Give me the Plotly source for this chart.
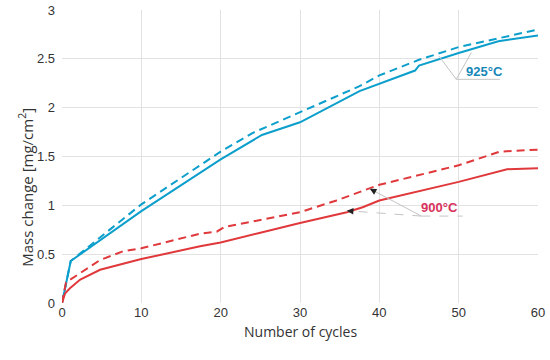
import plotly.graph_objects as go

# ---- data ----
x_925_solid = [0, 1.1, 10, 20, 25.2, 30, 37.5, 44.5, 45, 50, 55, 60]
y_925_solid = [0, 0.43, 0.94, 1.47, 1.72, 1.85, 2.17, 2.38, 2.43, 2.56, 2.68, 2.74]

x_925_dash = [0, 1.1, 10, 17.4, 20, 24, 25.4, 30, 37.5, 40, 45, 50, 55, 60]
y_925_dash = [0, 0.43, 1.01, 1.41, 1.55, 1.74, 1.79, 1.95, 2.22, 2.33, 2.49, 2.62, 2.71, 2.80]

x_900_solid = [0, 0.4, 1, 2.3, 4.8, 10, 17.4, 20, 25, 30, 35.9, 37.9, 40, 50, 56.1, 60]
y_900_solid = [0, 0.10, 0.15, 0.24, 0.34, 0.45, 0.58, 0.62, 0.72, 0.82, 0.93, 0.98, 1.05, 1.24, 1.37, 1.38]

x_900_dash = [0, 0.5, 4.8, 7.7, 10, 17.4, 19.5, 20.5, 25, 30, 34.6, 40, 50, 55.2, 60]
y_900_dash = [0, 0.21, 0.44, 0.53, 0.56, 0.71, 0.73, 0.78, 0.85, 0.93, 1.05, 1.21, 1.41, 1.55, 1.57]

x_ticks = [0, 10, 20, 30, 40, 50, 60]
y_ticks = [0, 0.5, 1, 1.5, 2, 2.5, 3]
y_tick_labels = ["0", "0.5", "1", "1.5", "2", "2.5", "3"]

x_title = "Number of cycles"
y_title = "Mass change [mg/cm<sup>2</sup>]"
label_925 = "925°C"
label_900 = "900°C"

BLUE = "#0c9fcc"
RED = "#e0393c"
BLUE_TXT = "#1787b8"
RED_TXT = "#d8325c"
GRID = "#e2e2e2"
GRAY = "#c4c4c4"

fig = go.Figure()
fig.add_trace(go.Scatter(x=x_925_dash, y=y_925_dash, mode="lines",
                         line=dict(color=BLUE, width=2, dash="8px,5px")))
fig.add_trace(go.Scatter(x=x_925_solid, y=y_925_solid, mode="lines",
                         line=dict(color=BLUE, width=2)))
fig.add_trace(go.Scatter(x=x_900_dash, y=y_900_dash, mode="lines",
                         line=dict(color=RED, width=2, dash="8px,5px")))
fig.add_trace(go.Scatter(x=x_900_solid, y=y_900_solid, mode="lines",
                         line=dict(color=RED, width=2)))

# ---- callout lines ----
def seg(x0, y0, x1, y1, dash="solid"):
    fig.add_shape(type="line", x0=x0, y0=y0, x1=x1, y1=y1, xref="x", yref="y",
                  line=dict(color=GRAY, width=1, dash=dash), layer="above")

def head(xt, yt, xv, yv):
    # tiny arrow whose head sits at the tip, direction from the vertex
    dx, dy = xt - xv, yt - yv
    fig.add_annotation(x=xt, y=yt, ax=xt - dx * 0.08, ay=yt - dy * 0.08,
                       xref="x", yref="y", axref="x", ayref="y", text="",
                       showarrow=True, arrowhead=2, arrowsize=1.1,
                       arrowwidth=1.2, arrowcolor="#222222")

# 925 callout
v925 = (49.7, 2.29)
seg(v925[0], v925[1], 47.5, 2.53)
seg(v925[0], v925[1], 51.6, 2.565)
seg(v925[0], v925[1], 55.2, v925[1])
head(47.5, 2.53, *v925)
head(51.6, 2.565, *v925)
fig.add_annotation(x=53.3, y=2.37, xref="x", yref="y", text="<b>" + label_925 + "</b>",
                   showarrow=False, font=dict(family="Liberation Sans", size=13, color=BLUE_TXT))

# 900 callout
v900 = (45.3, 0.89)
seg(v900[0], v900[1], 38.8, 1.17)
seg(v900[0], v900[1], 35.9, 0.945, dash="dash")
seg(v900[0], v900[1], 50.5, v900[1], dash="dash")
head(38.8, 1.17, *v900)
head(35.9, 0.945, *v900)
fig.add_annotation(x=47.6, y=0.98, xref="x", yref="y", text="<b>" + label_900 + "</b>",
                   showarrow=False, font=dict(family="Liberation Sans", size=13, color=RED_TXT))

# axis titles
fig.add_annotation(x=0, y=0.395, xref="paper", yref="paper", xshift=-49,
                   text=y_title, textangle=-90, showarrow=False,
                   font=dict(family="Open Sans", size=15, color="#333333"))
fig.add_annotation(x=0.5, y=0, xref="paper", yref="paper", yshift=-40,
                   text=x_title, showarrow=False,
                   font=dict(family="Open Sans", size=14, color="#333333"))

fig.update_layout(
    width=550, height=360, autosize=False,
    margin=dict(l=62, r=12, t=10, b=57, pad=0, autoexpand=False),
    paper_bgcolor="white", plot_bgcolor="white",
    showlegend=False,
    font=dict(family="Liberation Sans", size=13, color="#333333"),
)
fig.update_xaxes(range=[0, 60], tickvals=x_ticks, showgrid=True, gridcolor=GRID,
                 gridwidth=1, zeroline=False, showline=False, ticks="", automargin=False)
fig.update_yaxes(range=[0, 3], tickvals=y_ticks, ticktext=y_tick_labels, showgrid=True,
                 gridcolor=GRID, gridwidth=1, zeroline=False, showline=False,
                 ticks="", ticklabelstandoff=6, automargin=False)

fig.write_html("out.html",
               config={"displayModeBar": False, "responsive": False},
               post_script="document.body.style.margin='0';document.body.style.overflow='hidden';")
